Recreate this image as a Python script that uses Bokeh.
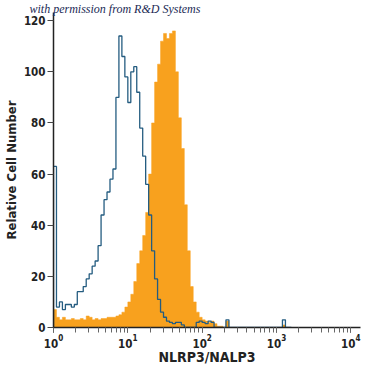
import numpy as np
from bokeh.plotting import figure
from bokeh.models import LogTicker, Range1d
from bokeh.embed import file_html
from bokeh.resources import INLINE

# log10 bin width (decades) and counts per bin starting at 10^0
bin_width = 0.04
isotype_counts = [63, 8, 10, 7, 9, 9, 8, 9, 14, 14, 16, 19, 21, 24, 26, 32, 44, 50, 53, 58,
                  62, 90, 114, 106, 98, 88, 100, 102, 92, 78, 67, 56, 44, 30, 19, 11, 6, 4, 2.5, 2,
                  1.5, 2, 2, 1, 0, 0, 0, 0, 2, 2.5, 2, 1.5, 2.5, 2, 0, 0, 0, 0, 3, 0,
                  0, 0, 0, 0, 0, 0, 0, 0, 0, 0, 0, 0, 0, 0, 0, 0, 0, 3, 0, 0]
nlrp3_counts = [7, 4, 3, 4, 3, 3, 3.5, 3, 3, 3.5, 3, 4.5, 4, 3, 3.5, 3, 3.5, 3.5, 4, 4,
                4, 4.5, 5, 6, 8, 10, 13, 18, 25, 30, 36, 45, 60, 80, 96, 103, 112, 115, 113, 115,
                116, 100, 82, 70, 48, 30, 16, 10, 6, 4, 3, 2.5, 2, 2.5, 1.5, 0.5, 0.5, 0, 2.5, 0,
                0, 0, 0, 0, 0, 0, 0, 0, 0, 0, 0, 0, 0, 0, 0, 0, 0, 1, 0, 0]

y_ticks = [0, 20, 40, 60, 80, 100, 120]

n = len(nlrp3_counts)
left = 10 ** (np.arange(n) * bin_width)
right = 10 ** ((np.arange(n) + 1) * bin_width)
edges = np.concatenate([left, [right[-1]]])
step_x = np.repeat(edges, 2)


def step_y(counts):
    c = np.array(counts, dtype=float)
    return np.concatenate([[0], np.repeat(c, 2), [0]])


p = figure(width=367, height=367, x_axis_type="log",
           x_range=Range1d(1, 10 ** 4.13), y_range=Range1d(0, 123.2),
           output_backend="svg", toolbar_location=None,
           title="with permission from R&D Systems",
           min_border_left=48, min_border_right=7, min_border_top=12, min_border_bottom=0)
p.title.align = "left"
p.title.offset = -24
p.title.standoff = -6
p.title.text_font = "Liberation Serif"
p.title.text_font_style = "italic"
p.title.text_font_size = "12px"
p.title.text_color = "#1B2A55"

p.outline_line_color = None
p.xgrid.grid_line_color = None
p.ygrid.grid_line_color = None
p.background_fill_color = "white"

p.patch(step_x, step_y(nlrp3_counts), fill_color="#F8A11E", line_color="#F8A11E", line_width=0.5)
p.line(step_x, step_y(isotype_counts), line_color="#245C80", line_width=1.3)

font = "DejaVu Sans Condensed"
for ax in (p.xaxis[0], p.yaxis[0]):
    ax.axis_line_color = "#222222"
    ax.axis_line_width = 1.5
    ax.major_tick_line_color = "#444444"
    ax.major_label_text_font = font
    ax.major_label_text_font_style = "bold"
    ax.major_label_text_font_size = "11.5px"
    ax.major_label_text_color = "#222222"
    ax.axis_label_text_font = font
    ax.axis_label_text_font_style = "bold"
    ax.axis_label_text_color = "#222222"

p.xaxis.ticker = LogTicker(desired_num_ticks=5, num_minor_ticks=10)
p.xaxis.major_tick_out = 5
p.xaxis.major_tick_in = 0
p.xaxis.minor_tick_out = 5
p.xaxis.minor_tick_in = 0
p.xaxis.minor_tick_line_color = "#666666"
p.xaxis.axis_label = "NLRP3/NALP3"
p.xaxis.axis_label_text_font_size = "14px"
p.xaxis.major_label_standoff = 1
p.xaxis.axis_label_standoff = -2

p.yaxis.ticker = y_ticks
p.yaxis.major_tick_out = 6
p.yaxis.major_tick_in = 0
p.yaxis.minor_tick_line_color = None
p.yaxis.axis_label = "Relative Cell Number"
p.yaxis.axis_label_text_font_size = "13px"
p.yaxis.major_label_standoff = 2
p.yaxis.axis_label_standoff = 2

open("out.html", "w").write(file_html(p, INLINE))
